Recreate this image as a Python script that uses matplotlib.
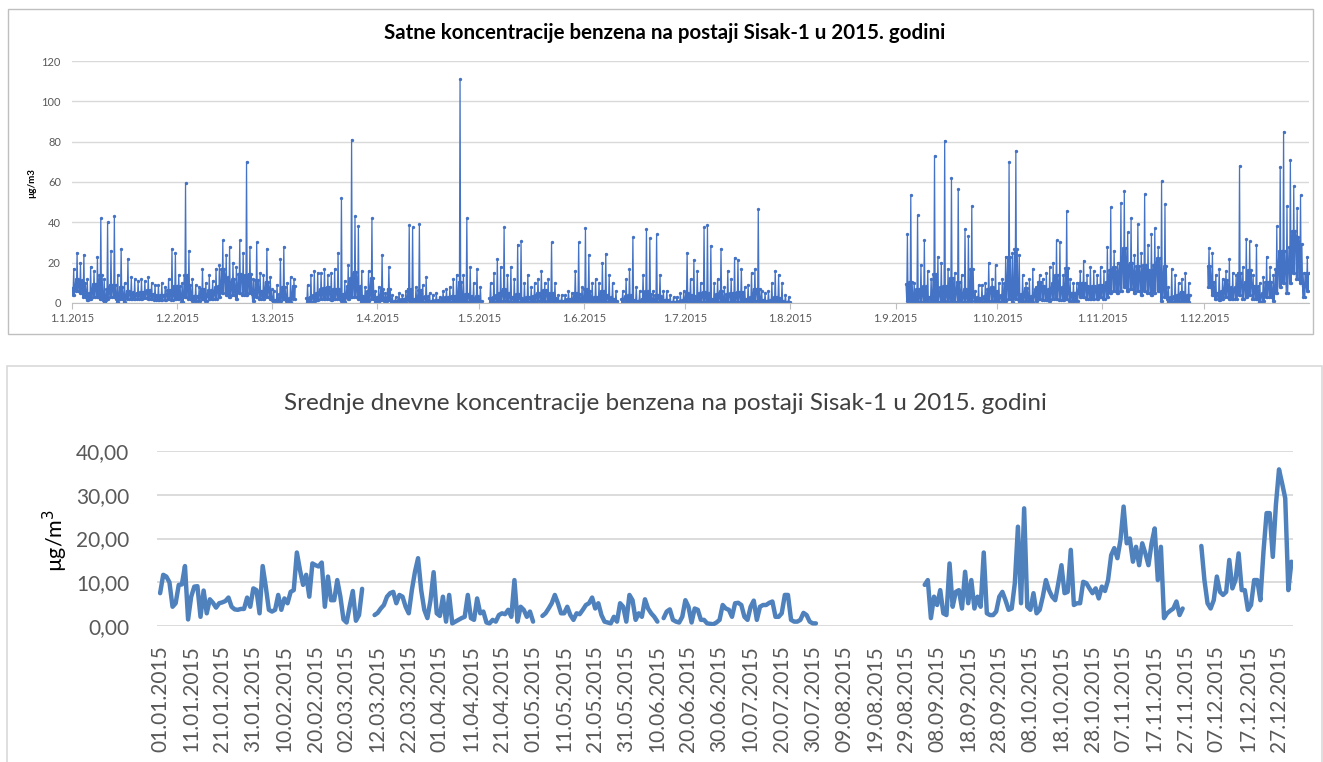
import datetime as dt
import numpy as np
import matplotlib
matplotlib.use("Agg")
import matplotlib.pyplot as plt
from matplotlib.patches import Rectangle

plt.rcParams['font.family'] = ['Lato', 'DejaVu Sans']

N = None

# daily means (lower chart), one value per day of 2015, None = no data
daily_mean = (
    [7.5, 11.7, 11.3, 10.0, 4.4, 5.2, 9.4, 9.5, 13.7, 1.5]
    + [6.7, 9.0, 9.1, 2.1, 8.1, 2.9, 6.1, 5.3, 4.2, 5.2]
    + [5.4, 5.7, 6.5, 4.4, 3.8, 3.7, 3.9, 3.9, 6.5, 4.4]
    + [8.6, 8.2, 2.9, 13.7, 9.0, 3.7, 3.3, 3.7, 7.1, 3.7]
    + [6.3, 5.2, 7.8, 8.2, 16.8, 12.8, 9.4, 11.7, 6.7, 14.3]
    + [13.9, 13.6, 14.5, 4.4, 11.3, 5.9, 5.9, 10.5, 6.7, 1.5]
    + [0.8, 4.5, 8.0, 1.2, 2.5, 8.5, N, N, N, 2.5]
    + [3.0, 4.0, 4.8, 6.7, 7.5, 7.8, 5.2, 7.1, 6.7, 4.4]
    + [2.9, 8.2, 12.4, 15.5, 8.2, 3.7, 1.8, 5.9, 12.3, 2.9]
    + [2.3, 6.7, 1.0, 7.1, 0.6, 1.0, 1.4, 1.8, 2.1, 7.1]
    + [1.8, 1.4, 6.3, 2.9, 3.3, 0.8, 0.6, 1.4, 1.0, 2.5]
    + [2.9, 2.7, 3.7, 2.1, 10.5, 1.0, 4.4, 3.7, 2.1, 3.3]
    + [1.0, N, N, 2.3, 2.9, 4.0, 5.2, 7.1, 5.2, 2.9]
    + [2.9, 4.4, 2.5, 1.4, 2.9, 2.7, 3.7, 4.8, 5.2, 6.5]
    + [4.0, 5.2, 2.5, 1.0, 0.8, 0.6, 2.1, 1.0, 5.2, 4.4]
    + [1.0, 7.1, 5.9, 1.4, 2.9, 2.1, 6.1, 4.0, 2.9, 2.1]
    + [1.0, N, 1.8, 3.3, 3.8, 1.4, 1.0, 0.8, 2.1, 5.9]
    + [4.4, 0.8, 4.0, 3.7, 1.4, 1.4, 0.6, 0.5, 0.4, 0.8]
    + [1.4, 4.8, 4.0, 3.7, 2.1, 5.2, 5.3, 4.8, 2.1, 1.4]
    + [4.4, 5.8, 1.4, 4.4, 4.8, 4.8, 5.3, 5.6, 2.1, 2.1]
    + [2.9, 7.1, 7.1, 1.4, 1.0, 1.0, 1.4, 3.0, 2.5, 1.0]
    + [0.6, 0.6] + [N] * 34
    + [9.4, 10.5, 1.8, 6.7]
    + [4.8, 8.2, 2.9, 2.5, 14.3, 4.4, 7.8, 8.2, 4.0, 12.4]
    + [5.2, 10.5, 4.0, 6.7, 4.4, 16.8, 2.9, 2.5, 2.5, 3.3]
    + [6.7, 7.8, 5.9, 3.7, 4.0, 9.8, 22.7, 5.2, 26.9, 4.4]
    + [3.7, 7.5, 2.9, 3.7, 6.7, 10.5, 8.2, 6.7, 5.9, 9.8]
    + [13.9, 7.5, 7.8, 17.4, 4.8, 5.2, 5.2, 10.1, 9.8, 8.6]
    + [7.5, 8.6, 6.3, 9.0, 8.0, 10.5, 16.2, 17.8, 15.5, 19.7]
    + [27.3, 18.9, 20.0, 14.7, 18.1, 13.9, 18.9, 16.6, 13.9, 18.9]
    + [22.3, 10.5, 18.1, 1.8, 2.9, 3.5, 4.0, 5.6, 2.5, 4.0]
    + [N, N, N, N, N, 18.3, 10.5, 5.2, 4.0, 5.9]
    + [11.3, 7.8, 7.1, 7.8, 15.1, 8.6, 10.5, 16.6, 8.2, 8.2]
    + [3.7, 4.8, 10.5, 10.5, 5.9, 17.0, 25.8, 25.8, 15.8, 27.7]
    + [35.8, 32.6, 29.2, 8.2, 14.7]
)

# highest hourly value of each day (upper chart)
daily_max = (
    [17, 25, 20, 24, 12, 18, 16, 23, 42, 12]
    + [40, 26, 43, 14, 27, 10, 22, 13, 12, 11]
    + [12, 11, 13, 10, 9, 9, 10, 8, 12, 27]
    + [25, 14, 10, 59.5, 26, 12, 9, 8, 17, 10]
    + [14, 11, 17, 19, 31, 24, 28, 20, 18, 31]
    + [25, 70, 28, 12, 30, 15, 14, 27, 13, 6]
    + [9, 22, 28, 10, 13, 12, N, N, N, 9]
    + [14, 16, 15, 15, 17, 14, 15, 17, 25, 52]
    + [11, 19, 81, 43, 38, 16, 8, 16, 42, 6]
    + [8, 24, 5, 18, 4, 3, 5, 4, 6, 38.5]
    + [37.5, 8, 39, 9, 13, 5, 4, 5, 3, 6]
    + [7, 8, 12, 14, 111, 14, 42, 18, 10, 17]
    + [8, N, N, 10, 15, 22, 18, 37.5, 14, 18]
    + [12, 29, 30.5, 10, 14, 8, 10, 12, 16, 10]
    + [12, 30, 10, 4, 4, 4, 6, 5, 16, 30]
    + [8, 37, 24, 10, 12, 10, 20, 24.5, 14, 10]
    + [6, N, 6, 12, 17, 32.5, 8, 6, 14, 36.5]
    + [32, 6, 34, 14, 6, 6, 4, 3, 3, 5]
    + [6, 25, 12, 21.5, 16, 10, 37.5, 38.5, 28.5, 10]
    + [12, 27, 8, 16, 12, 22.5, 21.5, 17, 8, 9]
    + [15, 17, 46.5, 6, 5, 6, 10, 16, 14, 10]
    + [4, 3] + [N] * 34
    + [34, 53.5, 10, 43.5]
    + [19, 31, 16, 12, 73, 23, 20, 80.5, 17, 62]
    + [15, 56.5, 14, 36.5, 33, 48, 6, 9, 9, 10]
    + [20, 12, 19, 10, 12, 23, 70, 25, 75.5, 24]
    + [14, 10, 12, 17, 8, 14, 12, 15, 18, 20]
    + [31, 30, 14, 45.5, 12, 10, 10, 16, 21, 14]
    + [18, 16, 14, 18, 16, 28, 47.5, 26, 20, 49.5]
    + [55.5, 35, 42, 24, 39, 25, 54, 29, 34, 37]
    + [28, 60.5, 49, 8, 17, 14, 10, 12, 15, 10]
    + [N, N, N, N, N, 27.5, 25, 14, 17, 12]
    + [16, 22, 15, 14, 68, 18, 31.5, 30.5, 14, 29]
    + [10, 13, 23, 18, 14, 38, 67.5, 85, 48, 71]
    + [58, 47, 53.5, 15, 23]
)

# lowest hourly value of each day (upper chart)
daily_min = (
    [4, 6, 5, 3, 1.5, 2, 3, 3, 2, 0.5]
    + [2, 3, 3, 0.5, 2, 0.5, 2, 2, 2, 2]
    + [2, 2.5, 2, 2, 1.5, 1.5, 1.5, 1.5, 2, 1.5]
    + [2, 2, 0.5, 3, 2, 1, 1, 1, 2, 1]
    + [2, 2, 2, 3, 5, 4, 3, 4, 2, 5]
    + [4, 4, 5, 1, 3, 2, 2, 3, 2, 0.3]
    + [0.2, 1, 2, 0.3, 0.5, 2, N, N, N, 0.5]
    + [0.5, 1, 1.5, 2, 2, 2, 1.5, 2, 2, 1]
    + [0.5, 2, 3, 3, 2, 0.5, 0.3, 1, 2, 0.5]
    + [0.5, 1.5, 0.2, 1.5, 0.1, 0.2, 0.3, 0.3, 0.3, 1]
    + [0.3, 0.2, 1, 0.5, 0.5, 0.1, 0.1, 0.2, 0.1, 0.3]
    + [0.5, 0.4, 0.5, 0.3, 1, 0.1, 0.5, 0.5, 0.3, 0.5]
    + [0.1, N, N, 0.3, 0.5, 0.5, 1, 1, 1, 0.5]
    + [0.5, 0.5, 0.3, 0.2, 0.5, 0.5, 0.5, 1, 1, 1]
    + [0.5, 1, 0.3, 0.1, 0.1, 0.1, 0.3, 0.1, 1, 0.5]
    + [0.1, 1, 1, 0.2, 0.3, 0.3, 1, 0.5, 0.5, 0.3]
    + [0.1, N, 0.2, 0.5, 0.5, 0.2, 0.1, 0.1, 0.3, 0.5]
    + [0.5, 0.1, 0.5, 0.5, 0.2, 0.2, 0.1, 0.1, 0.1, 0.1]
    + [0.2, 0.5, 0.5, 0.5, 0.3, 0.5, 0.5, 0.5, 0.3, 0.2]
    + [0.5, 0.5, 0.2, 0.5, 0.5, 0.5, 0.5, 0.5, 0.3, 0.3]
    + [0.3, 1, 1, 0.2, 0.1, 0.1, 0.2, 0.3, 0.3, 0.1]
    + [0.1, 0.1] + [N] * 34
    + [1, 1, 0.3, 0.5]
    + [0.5, 1, 0.3, 0.3, 1, 0.5, 0.5, 1, 0.5, 1]
    + [0.5, 1, 0.5, 0.5, 0.5, 1, 0.3, 0.3, 0.3, 0.5]
    + [1, 1, 1, 0.5, 0.5, 1, 2, 0.5, 2, 0.5]
    + [0.5, 1, 0.3, 0.5, 1, 2, 1.5, 1.5, 1, 2]
    + [2, 1.5, 1.5, 2, 1, 1, 1, 3, 3, 2]
    + [2, 2, 2, 3, 2, 3, 5, 6, 5, 6]
    + [8, 6, 7, 5, 6, 4, 6, 5, 4, 5]
    + [6, 1, 3, 0.3, 0.3, 0.5, 0.5, 1, 0.3, 0.5]
    + [N, N, N, N, N, 8, 4, 2, 1.5, 2]
    + [3, 2, 2, 2, 4, 2, 3, 4, 2, 2]
    + [0.5, 1, 3, 3, 1, 5, 8, 10, 5, 10]
    + [15, 12, 10, 3, 6]
)

month_days = [0, 31, 59, 90, 120, 151, 181, 212, 243, 273, 304, 334]

mean = np.array(daily_mean, dtype=float)
hi = np.array(daily_max, dtype=float)
lo = np.array(daily_min, dtype=float)
days = np.arange(len(mean))
start = dt.date(2015, 1, 1)

# hourly-like trace: readings through each day
hx = np.column_stack([days + 0.1, days + 0.3, days + 0.5, days + 0.7, days + 0.9]).ravel()
hy = np.column_stack([mean, lo, hi, lo, mean]).ravel()

W, H = 1323, 762
fig = plt.figure(figsize=(W / 100, H / 100), dpi=100)
fig.patches.append(Rectangle((8 / W, 1 - 334 / H), 1305 / W, 325 / H,
                             transform=fig.transFigure, fill=False,
                             edgecolor='#BFBFBF', lw=1))
fig.patches.append(Rectangle((7 / W, -0.01), 1315 / W, 1 - 366 / H + 0.01,
                             transform=fig.transFigure, fill=False,
                             edgecolor='#D9D9D9', lw=1.2))

gray = '#595959'

# upper chart: hourly values
ax1 = fig.add_axes([72 / W, 1 - 303 / H, 1237 / W, 242 / H])
ax1.plot(hx, hy, color='#4472C4', lw=0.9, marker='.', ms=2.8)
ax1.set_xlim(0, 365)
ax1.set_ylim(0, 120)
ax1.set_yticks(range(0, 121, 20))
ax1.set_xticks(month_days)
ax1.set_xticklabels([f"{(start + dt.timedelta(d)).day}.{(start + dt.timedelta(d)).month}.2015"
                     for d in month_days])
ax1.grid(axis='y', color='#D9D9D9', lw=1)
ax1.set_axisbelow(True)
for s in ['top', 'right', 'left']:
    ax1.spines[s].set_visible(False)
ax1.spines['bottom'].set_color('#BFBFBF')
ax1.tick_params(axis='y', length=0, labelsize=8, labelcolor=gray, pad=8)
ax1.tick_params(axis='x', length=4, color='#BFBFBF', labelsize=8,
                labelcolor=gray, pad=3)
fig.text(665 / W, 1 - 33 / H,
         "Satne koncentracije benzena na postaji Sisak-1 u 2015. godini",
         ha='center', va='center', fontsize=14.8, fontweight='bold')
fig.text(32 / W, 1 - 183 / H, "µg/m3", rotation=90, ha='center', va='center',
         fontsize=7, fontweight='bold')

# lower chart: daily means
ax2 = fig.add_axes([157 / W, 1 - 626 / H, 1136 / W, 175 / H])
ax2.plot(days, mean, color='#4F81BD', lw=3.2, solid_capstyle='round',
         solid_joinstyle='round')
ax2.set_xlim(-1, 364.5)
ax2.set_ylim(0, 40)
ax2.set_yticks(range(0, 41, 10))
ax2.set_yticklabels([f"{v},00" for v in range(0, 41, 10)])
tick_days = list(range(0, 361, 10))
ax2.set_xticks(tick_days)
ax2.set_xticklabels([(start + dt.timedelta(d)).strftime('%d.%m.%Y') for d in tick_days],
                    rotation=90)
ax2.grid(axis='y', color='#D9D9D9', lw=1.3)
ax2.set_axisbelow(True)
for s in ax2.spines.values():
    s.set_visible(False)
ax2.tick_params(axis='y', length=0, labelsize=15, labelcolor=gray, pad=20)
ax2.tick_params(axis='x', length=0, labelsize=15, labelcolor=gray, pad=14)
fig.text(665 / W, 1 - 404 / H,
         "Srednje dnevne koncentracije benzena na postaji Sisak-1 u 2015. godini",
         ha='center', va='center', fontsize=17.5, color='#404040')
fig.text(55 / W, 1 - 540 / H, "µg/m$^3$", rotation=90, ha='center', va='center',
         fontsize=15.5)

fig.savefig("out.png", dpi=100)
